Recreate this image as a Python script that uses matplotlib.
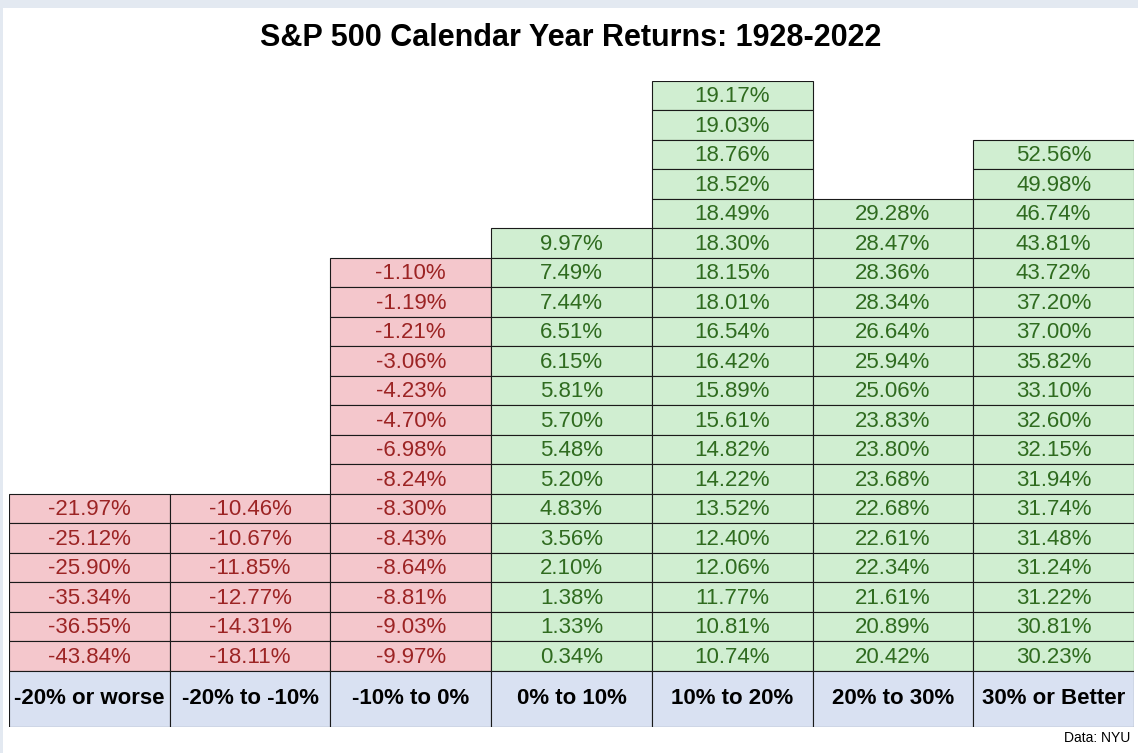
import matplotlib.pyplot as plt
from matplotlib.patches import Rectangle

# Data: S&P 500 yearly returns grouped by bucket (top to bottom as shown)
buckets = ['-20% or worse', '-20% to -10%', '-10% to 0%', '0% to 10%',
           '10% to 20%', '20% to 30%', '30% or Better']

worse_20 = [-21.97, -25.12, -25.90, -35.34, -36.55, -43.84]
neg20_neg10 = [-10.46, -10.67, -11.85, -12.77, -14.31, -18.11]
neg10_0 = [-1.10, -1.19, -1.21, -3.06, -4.23, -4.70, -6.98, -8.24,
            -8.30, -8.43, -8.64, -8.81, -9.03, -9.97]
pos0_10 = [9.97, 7.49, 7.44, 6.51, 6.15, 5.81, 5.70, 5.48, 5.20,
           4.83, 3.56, 2.10, 1.38, 1.33, 0.34]
pos10_20 = [19.17, 19.03, 18.76, 18.52, 18.49, 18.30, 18.15, 18.01, 16.54,
            16.42, 15.89, 15.61, 14.82, 14.22, 13.52, 12.40, 12.06, 11.77,
            10.81, 10.74]
pos20_30 = [29.28, 28.47, 28.36, 28.34, 26.64, 25.94, 25.06, 23.83, 23.80,
            23.68, 22.68, 22.61, 22.34, 21.61, 20.89, 20.42]
better_30 = [52.56, 49.98, 46.74, 43.81, 43.72, 37.20, 37.00, 35.82, 33.10,
             32.60, 32.15, 31.94, 31.74, 31.48, 31.24, 31.22, 30.81, 30.23]

columns = [worse_20, neg20_neg10, neg10_0, pos0_10, pos10_20, pos20_30, better_30]

# colours
red_fill, red_text = '#f4c7cc', '#9c2424'
green_fill, green_text = '#d0eed1', '#2f6b1f'
head_fill = '#d9e1f2'
edge = '#1a1a1a'
header_h = 1.9

plt.rcParams['font.family'] = ['Liberation Sans', 'DejaVu Sans']

fig = plt.figure(figsize=(11.38, 7.53), dpi=100)
fig.patch.set_facecolor('white')

# light frame strips at top and left
fig.patches.append(Rectangle((0, 1 - 8 / 753), 1, 8 / 753, transform=fig.transFigure,
                             facecolor='#e3e9f1', edgecolor='none'))
fig.patches.append(Rectangle((0, 0), 3 / 1138, 1, transform=fig.transFigure,
                             facecolor='#e3e9f1', edgecolor='none'))

ax = fig.add_axes([9 / 1138, (753 - 727) / 753, 1125 / 1138, 646 / 753])
ax.set_xlim(0, len(columns))
ax.set_ylim(-header_h, max(len(c) for c in columns))
ax.axis('off')

for i, vals in enumerate(columns):
    n = len(vals)
    for j, v in enumerate(vals):
        y = n - 1 - j
        neg = v < 0
        ax.add_patch(Rectangle((i, y), 1, 1, facecolor=red_fill if neg else green_fill,
                               edgecolor=edge, linewidth=0.8))
        ax.text(i + 0.5, y + 0.47, f'{v:.2f}%', ha='center', va='center',
                fontsize=16, color=red_text if neg else green_text)
    ax.add_patch(Rectangle((i, -header_h), 1, header_h, facecolor=head_fill,
                           edgecolor=edge, linewidth=0.8))
    ax.text(i + 0.5, -header_h / 2, buckets[i], ha='center', va='center',
            fontsize=16, fontweight='bold', color='black')

fig.text(571 / 1138, 1 - 38 / 753, 'S&P 500 Calendar Year Returns: 1928-2022',
         ha='center', va='center', fontsize=22, fontweight='bold')
fig.text(1130 / 1138, 1 - 738 / 753, 'Data: NYU', ha='right', va='center', fontsize=10)

fig.savefig('out.png', dpi=100)
